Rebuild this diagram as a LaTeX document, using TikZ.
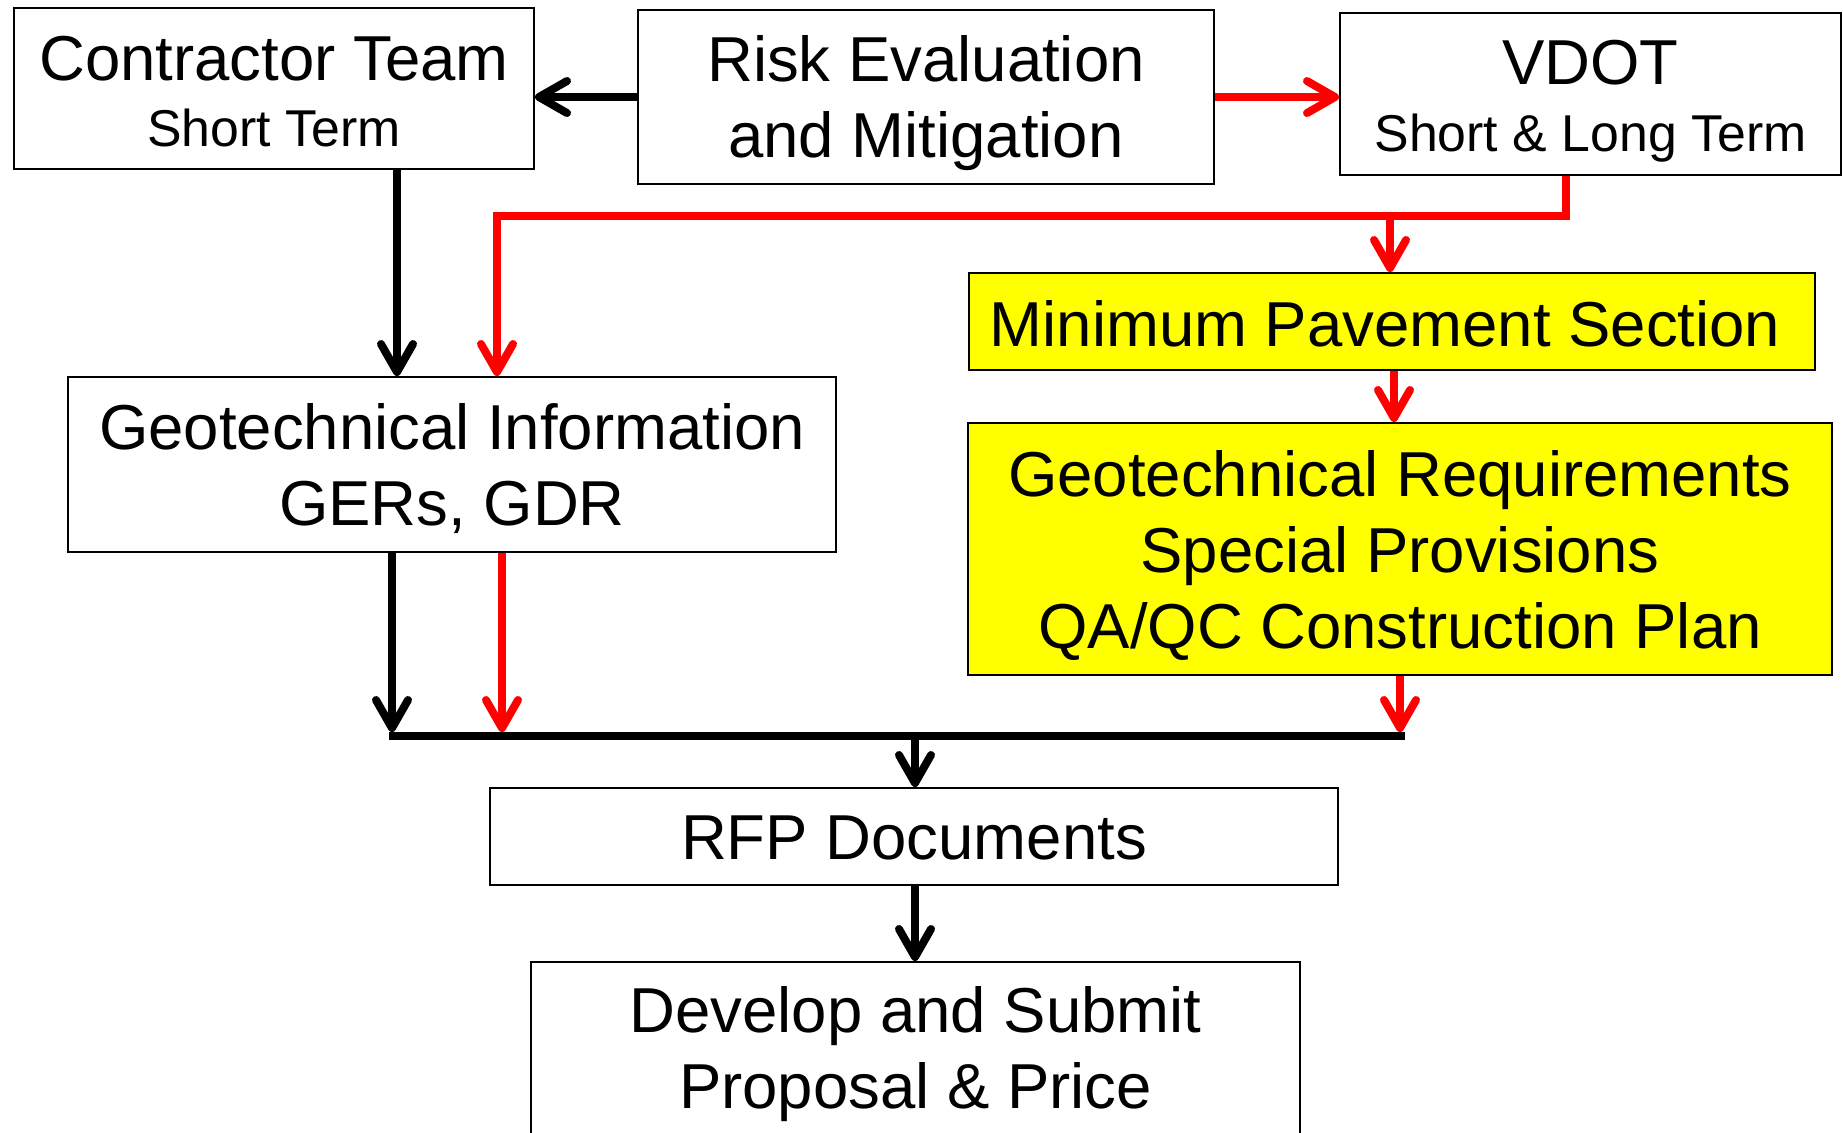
\documentclass[tikz,border=0pt]{standalone}
\usepackage{fontspec}
\setmainfont{Liberation Sans}
\usetikzlibrary{arrows.meta,calc}
\definecolor{pptred}{RGB}{255,0,0}
\definecolor{pptyellow}{RGB}{255,255,0}
\begin{document}
\begin{tikzpicture}[x=0.5pt,y=-0.5pt,
  box/.style={draw=black,line width=1pt,inner sep=0pt},
  ybox/.style={box,fill=pptyellow},
  txt/.style={inner sep=0pt,align=center,font=\fontsize{31.75}{38}\selectfont},
  blk/.style={line width=4pt,draw=black,-{Straight Barb[length=14pt,width=16pt,round]}},
  rd/.style={blk,draw=pptred}]
\fill[white] (0,0) rectangle (1843,1132);
\useasboundingbox (0,0) rectangle (1843,1132);

% boxes
\node[box,minimum width=260pt,minimum height=80.5pt] (contractor) at (274,88.5) {};
\node[box,minimum width=288pt,minimum height=87pt] (risk) at (926,97) {};
\node[box,minimum width=250.5pt,minimum height=81pt] (vdot) at (1590.5,94) {};
\node[ybox,minimum width=423pt,minimum height=48.5pt] (minpave) at (1392,321.5) {};
\node[ybox,minimum width=432pt,minimum height=126pt] (georeq) at (1400,549) {};
\node[box,minimum width=384pt,minimum height=87.5pt] (geoinfo) at (452,464.5) {};
\node[box,minimum width=424pt,minimum height=48.5pt] (rfp) at (914,836.5) {};
\node[box,minimum width=384.5pt,minimum height=86.5pt] (develop) at (915.5,1048.5) {};

% texts
\node[txt] (contractor-t) at ($(contractor.center)+(0,3)$)
  {Contractor Team\\[-4.7pt]{\fontsize{25.9}{31}\selectfont Short Term}};
\node[txt] (risk-t) at ($(risk.center)+(0,6)$) {Risk Evaluation\\and Mitigation};
\node[txt] (vdot-t) at ($(vdot.center)+(0,7)$)
  {VDOT\\[-4.2pt]{\fontsize{25.9}{31}\selectfont Short \& Long Term}};
\node[txt] (minpave-t) at ($(minpave.center)+(-7,2.5)$) {Minimum Pavement Section};
\node[txt] (georeq-t) at ($(georeq.center)+(0,6)$)
  {Geotechnical Requirements\\Special Provisions\\QA/QC Construction Plan};
\node[txt] (geoinfo-t) at ($(geoinfo.center)+(0,4)$) {Geotechnical Information\\GERs, GDR};
\node[txt] (rfp-t) at ($(rfp.center)+(0,1.5)$) {RFP Documents};
\node[txt] (develop-t) at ($(develop.center)+(0,6)$) {Develop and Submit\\Proposal \& Price};

% connector coordinates
\coordinate (jv) at (1566,216);
\coordinate (jl) at (497,216);
\coordinate (jm) at (1390,216);
\coordinate (bl) at (389,736);
\coordinate (br) at (1405,736);
\coordinate (bt) at (0,732);
\coordinate (xc) at (397,0);
\coordinate (xgb) at (392,0);
\coordinate (xgr) at (502,0);
\coordinate (xm) at (1394,0);
\coordinate (xq) at (1400,0);
\coordinate (xr) at (915,0);

\draw[blk] (risk.west) -- (risk.west -| contractor.east);
\draw[rd] (risk.east) -- (risk.east -| vdot.west);
\draw[rd] (vdot.south -| jv) -- (jv) -- (jl) -- (jl |- geoinfo.north);
\draw[rd] (jm) -- (jm |- minpave.north);
\draw[blk] (contractor.south -| xc) -- (geoinfo.north -| xc);
\draw[rd] (minpave.south -| xm) -- (georeq.north -| xm);
\draw[blk] (geoinfo.south -| xgb) -- (xgb |- bt);
\draw[rd] (geoinfo.south -| xgr) -- (xgr |- bt);
\draw[rd] (georeq.south -| xq) -- (xq |- bt);
\draw[line width=3.8pt] (bl) -- (br);
\draw[blk] (xr |- bl) -- (rfp.north -| xr);
\draw[blk] (rfp.south -| xr) -- (develop.north -| xr);
\end{tikzpicture}
\end{document}
